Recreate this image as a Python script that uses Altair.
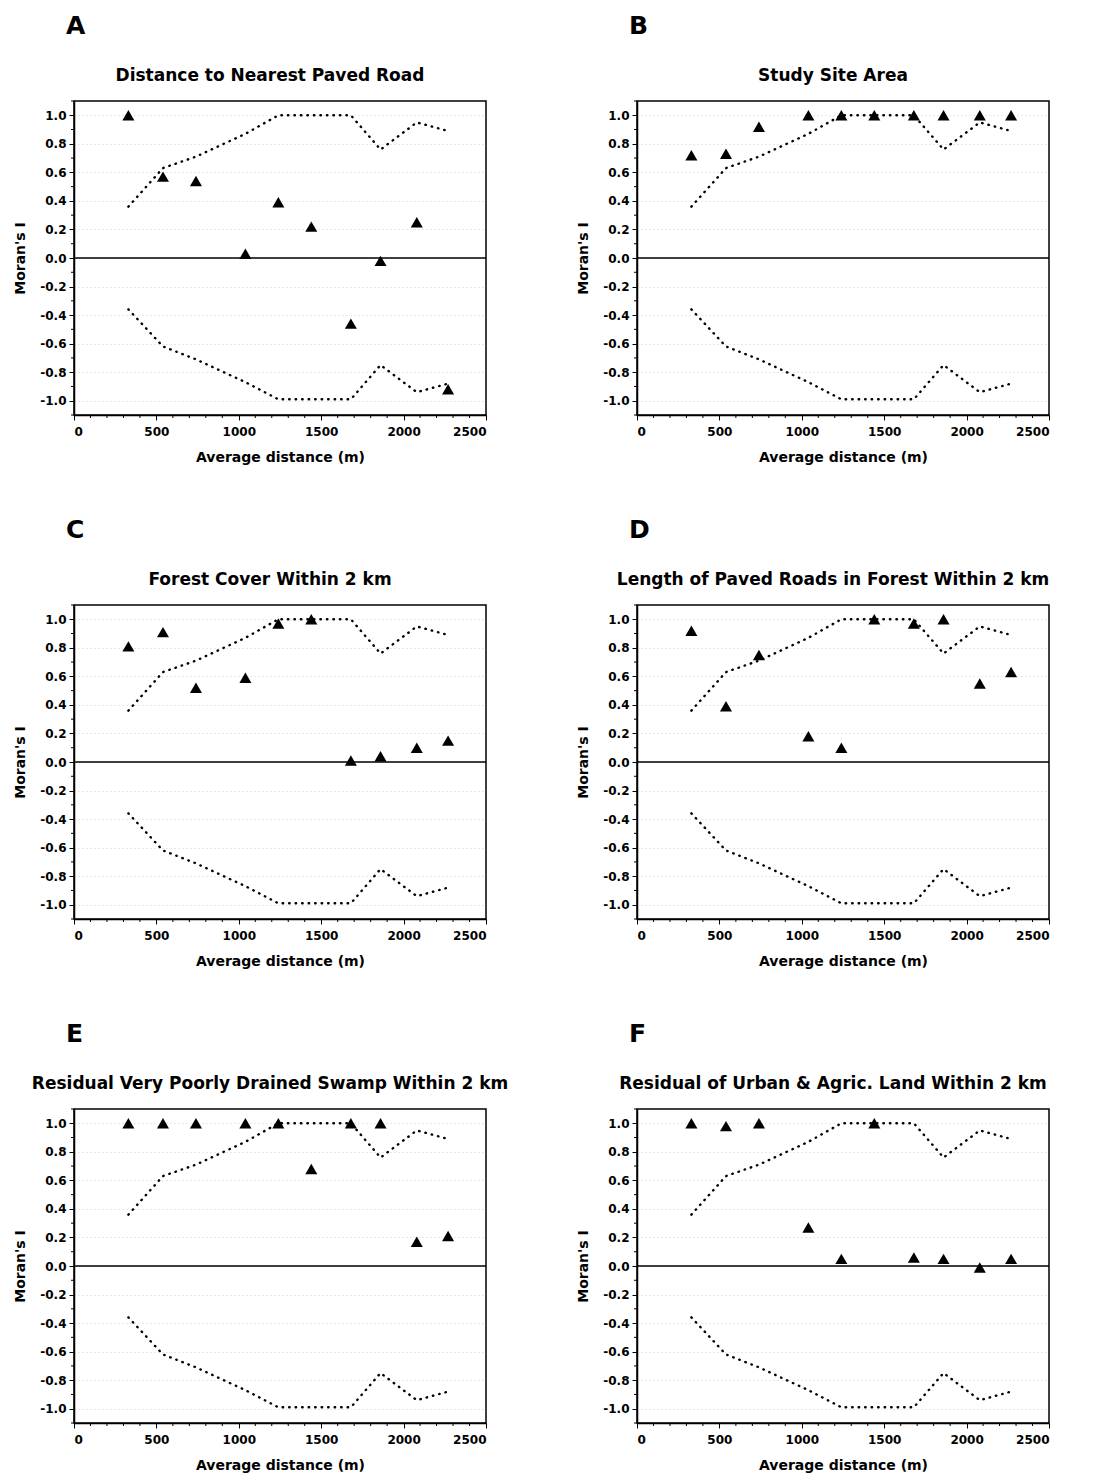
import altair as alt
import pandas as pd

FONT = "DejaVu Sans"

# Average distance classes (m)
DIST = [330, 540, 740, 1040, 1240, 1440, 1680, 1860, 2080, 2270]
# Significance envelope (dotted lines)
UPPER = [0.36, 0.63, 0.71, 0.87, 1.0, 1.0, 1.0, 0.76, 0.95, 0.89]
LOWER = [-0.36, -0.62, -0.71, -0.87, -0.99, -0.99, -0.99, -0.75, -0.94, -0.88]

LETTERS = ["A", "B", "C", "D", "E", "F"]
TITLES = [
    "Distance to Nearest Paved Road",
    "Study Site Area",
    "Forest Cover Within 2 km",
    "Length of Paved Roads in Forest Within 2 km",
    "Residual Very Poorly Drained Swamp Within 2 km",
    "Residual of Urban & Agric. Land Within 2 km",
]
MORAN_A = [1.0, 0.57, 0.54, 0.03, 0.39, 0.22, -0.46, -0.02, 0.25, -0.92]
MORAN_B = [0.72, 0.73, 0.92, 1.0, 1.0, 1.0, 1.0, 1.0, 1.0, 1.0]
MORAN_C = [0.81, 0.91, 0.52, 0.59, 0.97, 1.0, 0.01, 0.04, 0.10, 0.15]
MORAN_D = [0.92, 0.39, 0.75, 0.18, 0.10, 1.0, 0.97, 1.0, 0.55, 0.63]
MORAN_E = [1.0, 1.0, 1.0, 1.0, 1.0, 0.68, 1.0, 1.0, 0.17, 0.21]
MORAN_F = [1.0, 0.98, 1.0, 0.27, 0.05, 1.0, 0.06, 0.05, -0.01, 0.05]
SERIES = [MORAN_A, MORAN_B, MORAN_C, MORAN_D, MORAN_E, MORAN_F]

X_TICKS = [0, 500, 1000, 1500, 2000, 2500]
X_MINOR = [100, 200, 300, 400, 600, 700, 800, 900, 1100, 1200, 1300, 1400,
           1600, 1700, 1800, 1900, 2100, 2200, 2300, 2400]
Y_TICKS = [-1.0, -0.8, -0.6, -0.4, -0.2, 0.0, 0.2, 0.4, 0.6, 0.8, 1.0]
Y_MINOR = [-1.1, -0.9, -0.7, -0.5, -0.3, -0.1, 0.1, 0.3, 0.5, 0.7, 0.9, 1.1]
ZERO = [0.0]

W, H = 412, 314

AX_STYLE = dict(
    labelFont=FONT, labelFontSize=12, labelFontWeight="bold", labelColor="black",
    titleFont=FONT, titleFontSize=14, titleFontWeight="bold", titleColor="black",
    tickColor="black", tickWidth=1, domainColor="black", domainWidth=1.5,
    tickSize=5,
)

x_enc = alt.X(
    "d:Q",
    scale=alt.Scale(domain=[0, 2500], nice=False, zero=False),
    axis=alt.Axis(values=X_TICKS, title="Average distance (m)", grid=False,
                  labelPadding=6, titlePadding=13, format="d", **AX_STYLE),
)
y_enc = alt.Y(
    "i:Q",
    scale=alt.Scale(domain=[-1.1, 1.1], nice=False, zero=False),
    axis=alt.Axis(values=Y_TICKS, title="Moran's I", grid=True,
                  gridColor="#c4c4c4", gridDash=[1, 3], gridWidth=0.8,
                  labelPadding=3, titlePadding=12,
                  labelExpr="replace(format(datum.value, '.1f'), '\u2212', '-')",
                  **AX_STYLE),
)


def panel(letter, title, values):
    pts = pd.DataFrame({"d": DIST, "i": values})
    env = pd.DataFrame({"d": DIST + DIST, "i": UPPER + LOWER,
                        "band": ["upper"] * len(DIST) + ["lower"] * len(DIST)})

    zero = alt.Chart(pd.DataFrame({"i": ZERO})).mark_rule(
        color="black", strokeWidth=1.5).encode(y=y_enc)

    env_line = alt.Chart(env).mark_line(
        color="black", strokeWidth=2.4, strokeDash=[0.5, 6], strokeCap="round"
    ).encode(x=x_enc, y=y_enc, detail="band:N")

    tri = alt.Chart(pts).mark_point(
        shape="triangle-up", filled=True, color="black", opacity=1, size=145
    ).encode(x=x_enc, y=y_enc)

    ymin = alt.Chart(pd.DataFrame({"i": Y_MINOR})).mark_rule(
        color="black", strokeWidth=1).encode(
        y=y_enc, x=alt.value(-3), x2=alt.value(0))
    xmin = alt.Chart(pd.DataFrame({"d": X_MINOR})).mark_rule(
        color="black", strokeWidth=1).encode(
        x=x_enc, y=alt.value(H), y2=alt.value(H + 3))

    lab = alt.Chart(pd.DataFrame({"t": [letter]})).mark_text(
        align="left", baseline="alphabetic", fontSize=25, fontWeight="bold",
        font=FONT, color="black"
    ).encode(text="t:N", x=alt.value(-8), y=alt.value(-67))

    ttl = alt.Chart(pd.DataFrame({"t": [title]})).mark_text(
        align="center", baseline="alphabetic", fontSize=17, fontWeight="bold",
        font=FONT, color="black"
    ).encode(text="t:N", x=alt.value(W / 2 - 10), y=alt.value(-20))

    return alt.layer(zero, env_line, tri, ymin, xmin, lab, ttl).properties(
        width=W, height=H,
    )


panels = [panel(l, t, s) for l, t, s in zip(LETTERS, TITLES, SERIES)]

chart = alt.concat(
    *panels, columns=2, bounds="flush",
    spacing=alt.RowColnumber(row=190, column=151),
).configure(
    background="white"
).configure_view(
    stroke="black", strokeWidth=1.5
)

chart.save("out.html", embed_options={"renderer": "svg", "actions": False})
